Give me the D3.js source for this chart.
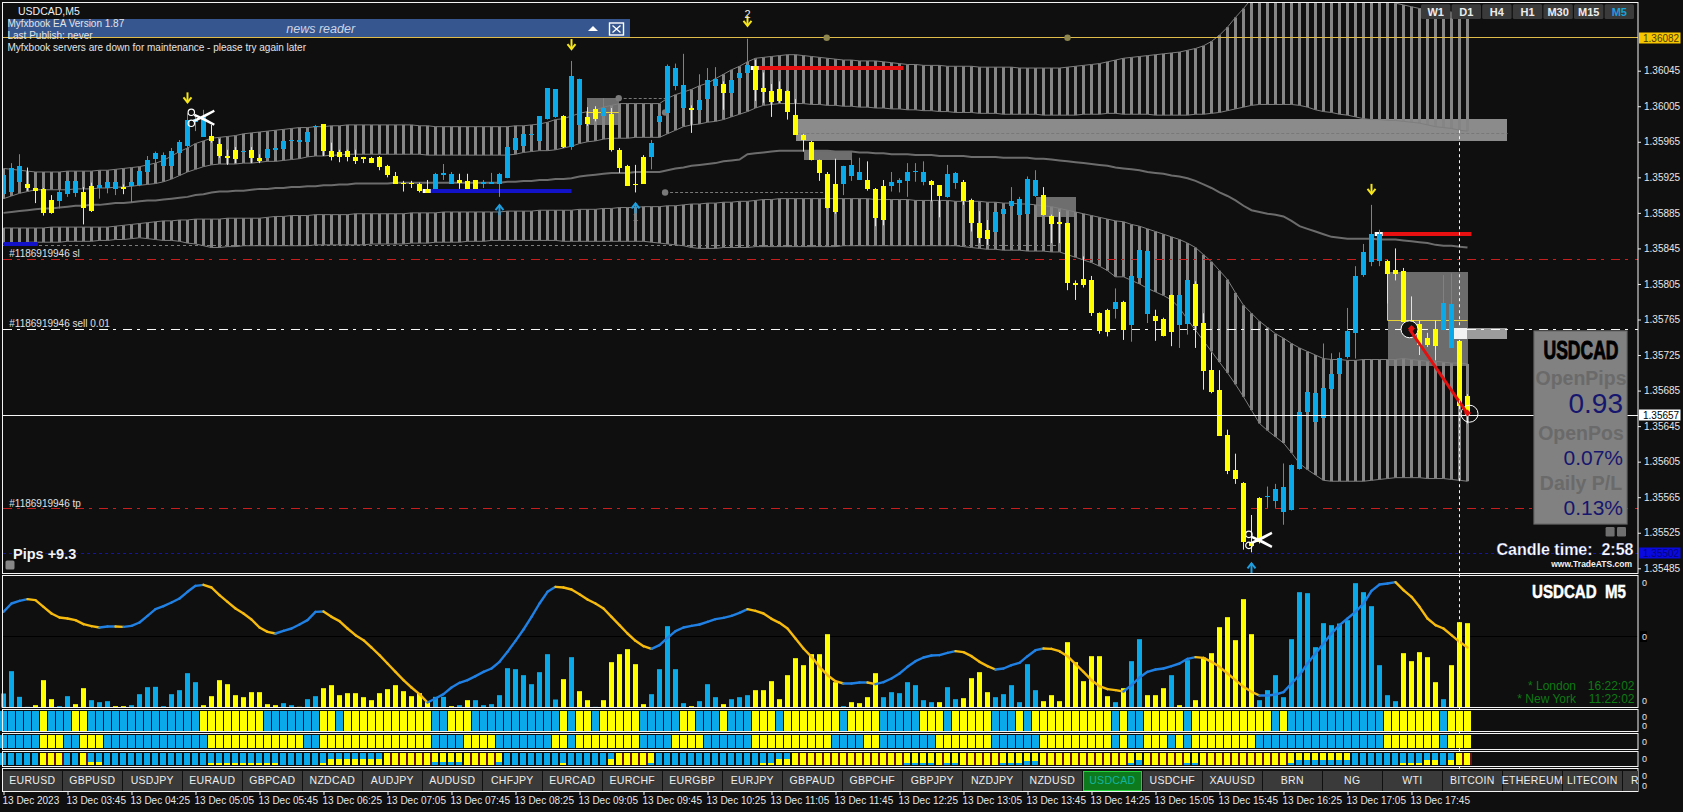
<!DOCTYPE html>
<html><head><meta charset="utf-8">
<script src="https://cdn.jsdelivr.net/npm/d3@7/dist/d3.min.js"></script>
<style>
html,body{margin:0;padding:0;background:#0a0a0a;overflow:hidden}
svg{display:block}
text{font-family:"Liberation Sans",Arial,sans-serif}
</style></head><body><svg id="c" width="1683" height="812"></svg>
<script>
// ---------- DATA (prices in points: 35912 means 1.35912) ----------
const candleHigh=[35930,35941,35951,35936,35913,35913,35905,35914,35931,35930,
35914,35919,35926,35926,35926,35917,35920,35935,35949,35954,
35953,35958,35967,35997,35995,36001,35984,35968,35956,35959,
35960,35959,35951,35958,35961,35967,35977,35971,35978,35984,
35985,35964,35956,35956,35956,35948,35948,35949,35939,35931,
35921,35921,35919,35922,35930,35940,35931,35929,35929,35922,
35922,35930,35930,35963,35976,35976,35976,35994,36025,36024,
35995,36056,36036,36004,36005,36014,36003,35958,35939,35939,
35950,35967,35995,36052,36053,36064,36006,36041,36048,36049,
36033,36041,36048,36081,36057,36043,36030,36033,36023,36013,
35974,35966,35945,35931,35946,35938,35946,35947,35943,35913,
35922,35931,35924,35941,35941,35943,35922,35916,35939,35931,
35922,35901,35887,35877,35886,35894,35914,35903,35926,35933,
35914,35883,35886,35874,35809,35836,35814,35773,35777,35800,
35786,35821,35843,35843,35776,35767,35793,35798,35826,35808,
35772,35728,35708,35641,35614,35582,35545,35565,35577,35580,
35603,35602,35663,35714,35711,35738,35727,35728,35778,35825,
35850,35894,35866,35832,35845,35823,35791,35764,35750,35764,
35815,35817,35742,35681];
const candleBodyTop=[35928,35936,35938,35917,35913,35912,35900,35908,35921,35921,
35908,35915,35916,35920,35920,35914,35920,35932,35944,35952,
35950,35955,35965,35989,35991,35993,35971,35962,35949,35956,
35955,35956,35947,35957,35958,35966,35967,35967,35976,35983,
35985,35955,35953,35955,35948,35948,35947,35948,35938,35927,
35919,35919,35918,35912,35929,35930,35929,35922,35921,35922,
35920,35920,35929,35959,35969,35974,35974,35994,36025,36024,
35994,36039,36036,35993,36002,36003,35996,35956,35938,35918,
35948,35964,35994,36050,36048,36029,36003,36012,36034,36036,
36030,36034,36042,36051,36050,36026,36022,36024,36022,35995,
35973,35965,35944,35929,35918,35938,35939,35931,35922,35912,
35915,35920,35922,35931,35932,35931,35921,35916,35929,35930,
35920,35900,35874,35866,35886,35889,35898,35901,35923,35922,
35905,35882,35875,35874,35806,35811,35809,35772,35776,35785,
35785,35814,35843,35842,35769,35766,35793,35793,35809,35805,
35761,35708,35686,35635,35596,35581,35515,35564,35566,35574,
35576,35601,35661,35683,35682,35688,35704,35722,35752,35814,
35841,35861,35861,35831,35821,35820,35765,35760,35744,35754,
35784,35783,35741,35679];
const candleBodyLow=[35907,35909,35920,35912,35910,35885,35885,35898,35906,35907,
35890,35887,35913,35913,35912,35912,35916,35916,35931,35945,
35938,35938,35953,35960,35988,35971,35965,35948,35947,35946,
35954,35947,35944,35947,35956,35957,35966,35965,35965,35982,
35955,35948,35947,35948,35944,35946,35941,35937,35928,35918,
35918,35918,35910,35908,35912,35928,35918,35919,35912,35912,
35918,35918,35918,35924,35956,35961,35973,35966,35990,35992,
35959,35959,35984,35985,35991,35994,35955,35936,35916,35917,
35918,35948,35987,35997,36028,36003,36001,36001,36013,36028,
36020,36019,36036,36042,36023,36021,36010,36010,35998,35973,
35967,35945,35929,35891,35887,35918,35927,35922,35912,35879,
35877,35915,35919,35921,35931,35920,35916,35904,35903,35919,
35899,35874,35857,35856,35864,35883,35892,35883,35884,35904,
35883,35873,35873,35806,35804,35804,35772,35752,35751,35777,
35753,35759,35811,35771,35763,35747,35751,35759,35759,35758,
35707,35683,35634,35595,35586,35515,35510,35515,35565,35560,
35548,35550,35597,35660,35649,35654,35687,35704,35723,35750,
35815,35830,35831,35816,35816,35763,35750,35736,35736,35735,
35754,35734,35668,35658];
const candleLow=[35901,35905,35912,35910,35896,35882,35884,35890,35903,35903,
35872,35886,35901,35907,35905,35906,35897,35915,35930,35941,
35933,35935,35950,35956,35977,35971,35964,35947,35939,35941,
35949,35941,35941,35943,35948,35956,35960,35962,35963,35974,
35949,35944,35942,35943,35940,35941,35941,35933,35925,35918,
35909,35913,35908,35908,35912,35922,35918,35912,35912,35912,
35913,35918,35903,35924,35951,35961,35967,35965,35990,35992,
35958,35956,35983,35983,35988,35992,35954,35930,35916,35908,
35918,35934,35980,35993,36023,36002,35975,35995,36012,36024,
36001,36018,36019,36040,36011,36009,35993,36009,35990,35973,
35954,35944,35921,35890,35884,35905,35921,35922,35910,35870,
35871,35909,35908,35903,35920,35916,35898,35880,35902,35912,
35894,35864,35851,35849,35863,35872,35886,35875,35883,35903,
35882,35851,35851,35798,35787,35801,35769,35749,35746,35766,
35742,35740,35806,35761,35741,35746,35735,35733,35748,35733,
35686,35682,35634,35591,35580,35506,35503,35513,35553,35553,
35534,35550,35596,35658,35648,35653,35686,35703,35721,35721,
35813,35825,35825,35783,35809,35763,35744,35725,35734,35719,
35753,35733,35665,35648];
const candleColorRuns="b3 y4 b3 y2 b3 y1 b10 y4 b1 y2 b7 y14 b3 y3 b10 y1 b2 y2 b1 y5 b5 y1 b3 y1 b3 y11 b3 y3 b5 y2 b2 y4 b6 y9 b1 y1 b3 y3 b2 y9 b15 y7 b2 y2";

const upperBandTop=[35935,35934,35933,35932,35931,35931,35931,35931,35932,35932,35932,35932,35933,35933,35934,35935,35936,35937,35939,35941,
35944,35949,35954,35958,35963,35966,35969,35970,35971,35972,35974,35975,35976,35977,35978,35979,35980,35981,35981,35982,
35982,35983,35983,35984,35984,35984,35984,35984,35984,35984,35984,35984,35983,35983,35982,35982,35982,35982,35982,35982,
35982,35982,35982,35982,35983,35983,35984,35985,35987,35990,35991,35994,35997,35999,36001,36004,36006,36008,36008,36008,
36008,36008,36008,36014,36018,36021,36024,36028,36031,36036,36041,36046,36050,36055,36059,36060,36061,36062,36063,36063,
36062,36061,36060,36059,36058,36057,36057,36056,36056,36056,36055,36054,36053,36052,36052,36051,36051,36051,36050,36050,
36050,36050,36049,36049,36049,36049,36049,36048,36048,36048,36048,36048,36048,36049,36050,36051,36052,36053,36055,36057,
36059,36060,36061,36062,36063,36064,36065,36066,36068,36070,36073,36078,36085,36094,36105,36115,36126,36135,36145,36152,
36160,36165,36168,36170,36172,36172,36170,36167,36162,36155,36148,36140,36133,36126,36121,36119,36117,36115,36114,36113,36112,36111,36110,36109];
const upperBandBottom=[35901,35904,35907,35909,35911,35911,35911,35911,35911,35912,35912,35912,35913,35913,35914,35914,35915,35916,35917,35918,
35920,35923,35927,35931,35934,35937,35939,35940,35940,35940,35941,35941,35942,35943,35943,35944,35945,35946,35948,35949,
35949,35950,35950,35951,35951,35951,35951,35951,35951,35951,35951,35951,35951,35950,35950,35950,35950,35950,35950,35950,
35950,35950,35950,35950,35951,35953,35954,35955,35955,35956,35958,35960,35963,35965,35966,35968,35969,35969,35969,35970,
35970,35970,35970,35974,35978,35982,35984,35985,35987,35988,35990,35993,35996,35999,36003,36006,36007,36008,36008,36008,
36008,36007,36007,36006,36006,36005,36005,36004,36004,36003,36003,36002,36002,36001,36001,36000,36000,35999,35999,35998,
35998,35998,35997,35997,35997,35996,35996,35996,35996,35996,35995,35995,35995,35995,35995,35996,35996,35996,35997,35997,
35996,35996,35996,35996,35995,35995,35995,35995,35995,35996,35996,35997,35998,36000,36002,36004,36006,36007,36007,36007,
36007,36007,36006,36004,36001,35999,35998,35996,35995,35993,35991,35990,35990,35989,35989,35988,35987,35986,35984,35982,35981,35980,35978,35977];
const middleLine=[35885,35886,35887,35888,35889,35890,35890,35891,35892,35893,35893,35894,35894,35895,35896,35896,35897,35898,35899,35899,
35900,35901,35902,35903,35905,35906,35908,35909,35909,35910,35910,35911,35912,35912,35913,35913,35914,35914,35915,35915,
35916,35916,35917,35917,35918,35918,35918,35918,35918,35919,35919,35919,35919,35919,35919,35919,35919,35919,35919,35919,
35919,35919,35919,35920,35920,35921,35921,35922,35922,35923,35923,35924,35926,35927,35928,35929,35930,35930,35930,35931,
35931,35931,35931,35933,35935,35936,35938,35939,35940,35941,35943,35944,35945,35951,35952,35953,35954,35955,35955,35955,
35955,35955,35955,35955,35954,35954,35954,35953,35953,35952,35952,35951,35951,35951,35950,35950,35950,35949,35949,35949,
35949,35948,35948,35948,35948,35947,35947,35947,35947,35946,35946,35945,35944,35943,35942,35941,35940,35939,35938,35936,
35935,35934,35933,35931,35930,35929,35927,35926,35924,35921,35917,35913,35908,35904,35899,35893,35888,35886,35884,35883,
35881,35876,35870,35867,35864,35861,35858,35857,35856,35856,35856,35856,35855,35855,35855,35854,35853,35852,35851,35849,35848,35848,35847,35846];
const lowerBandTop=[35868,35868,35868,35868,35868,35868,35869,35869,35869,35869,35869,35869,35869,35869,35870,35871,35872,35873,35874,35875,
35876,35876,35877,35877,35878,35878,35878,35878,35879,35879,35879,35879,35879,35880,35881,35881,35882,35882,35882,35883,
35883,35883,35883,35883,35884,35884,35884,35884,35884,35884,35884,35885,35885,35885,35885,35886,35886,35886,35886,35886,
35886,35886,35886,35887,35887,35887,35887,35888,35888,35888,35888,35888,35889,35889,35889,35890,35890,35891,35891,35891,
35892,35892,35892,35893,35893,35894,35895,35895,35896,35896,35897,35897,35898,35898,35899,35900,35900,35901,35901,35901,
35901,35901,35901,35901,35901,35901,35901,35901,35901,35900,35900,35900,35900,35900,35899,35899,35899,35899,35899,35898,
35898,35898,35898,35897,35897,35896,35896,35895,35895,35894,35893,35892,35890,35888,35886,35884,35882,35880,35878,35876,
35875,35872,35870,35867,35864,35861,35858,35855,35851,35846,35838,35830,35820,35810,35795,35781,35772,35763,35756,35749,
35744,35738,35733,35729,35725,35721,35720,35720,35719,35719,35720,35720,35720,35720,35720,35721,35720,35719,35718,35718,35717,35716,35716,35715];
const lowerBandBottom=[35851,35851,35851,35852,35852,35852,35852,35852,35853,35853,35853,35853,35854,35854,35855,35855,35856,35857,35856,35855,
35854,35854,35853,35851,35850,35848,35846,35846,35847,35847,35848,35848,35848,35848,35848,35848,35848,35848,35848,35849,
35849,35849,35849,35849,35849,35849,35850,35850,35850,35850,35850,35851,35851,35851,35852,35852,35852,35852,35853,35853,
35853,35854,35854,35854,35854,35854,35854,35854,35854,35854,35853,35853,35853,35853,35853,35853,35853,35853,35853,35853,
35853,35852,35851,35850,35849,35848,35846,35845,35845,35845,35846,35846,35846,35846,35847,35847,35847,35847,35847,35847,
35847,35847,35847,35847,35847,35848,35848,35848,35848,35848,35848,35848,35848,35848,35848,35848,35848,35848,35848,35848,
35847,35846,35845,35844,35844,35843,35843,35843,35842,35842,35842,35841,35841,35838,35835,35832,35829,35825,35820,35813,
35813,35809,35805,35800,35796,35792,35787,35778,35765,35753,35741,35729,35717,35705,35692,35678,35663,35648,35640,35633,
35626,35615,35603,35596,35590,35584,35583,35583,35583,35583,35583,35584,35585,35586,35587,35587,35587,35587,35586,35586,35586,35585,35584,35583];

const histValues=[42,109,32,2,7,82,25,4,34,10,58,22,16,19,4,4,7,40,61,62,
4,40,52,103,76,7,34,82,70,37,31,46,46,10,7,13,7,2,25,34,
58,67,37,43,43,31,22,43,55,67,49,34,43,16,32,32,4,7,22,22,
7,10,37,118,115,97,70,106,160,24,85,151,49,22,2,22,136,160,175,130,
10,40,115,244,115,13,4,19,70,31,10,25,31,37,52,52,79,25,97,148,
127,160,160,220,76,4,16,13,31,103,31,46,43,76,67,22,16,16,61,25,
28,88,106,46,31,40,67,16,130,52,19,37,19,196,136,79,154,154,34,16,
58,139,205,37,37,58,97,7,142,22,150,163,241,271,202,325,220,22,52,97,
31,205,346,343,181,253,247,252,262,373,346,304,127,37,19,163,139,166,151,76,25,127,256,253];
const histColorRuns="b4 y3 b2 y2 b3 y2 b9 y10 b2 y1 b2 y14 b2 y1 b1 y1 b11 y1 b1 y2 b1 y6 b5 y1 b3 y1 b3 y11 b1 y4 b7 y1 b2 y4 b6 y9 b1 y1 b2 y3 b1 y1 b1 y8 b18 y5 b1 y3";
const oscillator=[287,312,320,325,322,302,282,270,267,262,250,244,240,243,243,242,245,255,275,295,
304,315,327,347,365,368,360,337,317,297,282,264,240,227,222,230,237,249,262,287,
288,272,259,237,217,202,180,157,132,107,82,60,40,15,27,40,60,74,82,94,
107,117,137,167,200,234,272,312,347,362,360,354,340,324,312,297,272,247,222,200,
184,176,187,209,229,240,245,249,257,265,269,275,284,295,290,282,266,254,237,207,
177,152,122,97,79,72,72,75,75,70,76,87,102,122,139,150,156,157,164,169,
166,154,137,124,114,117,127,134,154,172,177,176,169,154,130,107,82,64,55,52,
48,67,90,107,114,117,124,132,146,151,149,137,122,102,82,62,47,36,36,39,
46,72,97,132,162,192,222,247,267,287,312,350,369,372,376,352,332,302,267,247,237,217,197,180];
const stripeOneRuns="b5 y1 b3 y2 b14 y8 b7 y2 b1 y11 b2 y3 b11 y1 b1 y2 b1 y5 b5 y2 b3 y1 b3 y3 b1 y7 b1 y4 b5 y3 b1 y5 b3 y1 b1 y10 b1 y1 b2 y5 b1 y10 b1 y1 b12 y7 b1 y3";
const stripeTwoRuns="b5 y3 b2 y3 b13 y12 b2 y14 b4 y4 b7 y2 b1 y8 b4 y4 b6 y10 b4 y2 b7 y7 b6 y9 b1 y1 b2 y3 b1 y1 b1 y8 b16 y7 b1 y3";
// share of yellow: 1 all yellow, 0 all blue, >0 yellow under blue, <0 blue under yellow
const stripeThreeShare=[0,0,0,0,0,1,1,1,0,0,1,.25,.25,0,0,0,0,0,0,0,0,0,0,0,0,0,
.2,.2,.2,.2,.2,.2,.2,.2,.2,0,0,0,0,0,.2,.5,.5,.5,.5,.5,.5,.5,1,1,1,1,1,1,
-.25,-.25,-.25,-.25,1,1,1,1,-.25,0,0,0,0,0,0,0,.2,0,0,0,0,0,.5,1,1,1,1,-.2,
0,0,0,0,0,0,0,0,0,0,0,0,0,.2,.2,.5,.5,1,1,1,1,1,1,1,1,1,1,1,1,1,1,
-.2,-.2,-.2,-.2,1,-.2,-.2,1,1,1,1,1,-.2,-.2,-.2,-.35,-.35,1,1,1,1,1,1,1,1,1,1,1,
-.2,-.4,1,1,1,1,1,-.2,-.2,1,1,1,1,1,1,1,1,1,1,1,-.2,-.4,-.4,-.4,-.4,-.4,-.4,-.4,
0,0,0,0,0,0,.2,.2,.2,.4,.4,0,.4,1,1];

const priceTicks=[36045,36005,35965,35925,35885,35845,35805,35765,35725,35685,35645,35605,35565,35525,35485];
const timeLabels=["13 Dec 2023","13 Dec 03:45","13 Dec 04:25","13 Dec 05:05","13 Dec 05:45","13 Dec 06:25","13 Dec 07:05","13 Dec 07:45","13 Dec 08:25","13 Dec 09:05","13 Dec 09:45","13 Dec 10:25","13 Dec 11:05","13 Dec 11:45","13 Dec 12:25","13 Dec 13:05","13 Dec 13:45","13 Dec 14:25","13 Dec 15:05","13 Dec 15:45","13 Dec 16:25","13 Dec 17:05","13 Dec 17:45"];
const symbolButtons=["EURUSD","GBPUSD","USDJPY","EURAUD","GBPCAD","NZDCAD","AUDJPY","AUDUSD","CHFJPY","EURCAD","EURCHF","EURGBP","EURJPY","GBPAUD","GBPCHF","GBPJPY","NZDJPY","NZDUSD","USDCAD","USDCHF","XAUUSD","BRN","NG","WTI","BITCOIN","ETHEREUM","LITECOIN","RIPPLE"];
const timeframeButtons=["W1","D1","H4","H1","M30","M15","M5"];
const goldLevel=36082, slLevel=35833, entryLevel=35754, bidLevel=35657, tpLevel=35552, blueLevel=35502, grayDashLevel=35848;
const grayBoxes=[ // [bar from, bar to, price top, price bottom, fill]
 [99.1,188,35991,35966,"#8b8b8b"],[72.9,76.9,36014,35984,"#6e6e6e"],[100,106,35955,35945,"#6e6e6e"],
 [129,134,35903,35881,"#6e6e6e"],[173,183,35818,35712,"#6c6c6c"]];
const upArrows=[[62,35888],[79,35890],[156,35485]];
const downArrows=[[23,36015],[71,36075],[93,36101],[171,35912]];
const thickLevels=[[53,71,35910,"#1212c8"],[0,4.3,35850,"#1212c8"],[94,112.5,36048,"#e81010"],[172,183.5,35861,"#e81010"]];
const scissorMarks=[[24.6,35992],[156.8,35517]];

// ---------- LAYOUT + SCALES ----------
const P={l:3,r:1638,top:3,mainB:574,oscT:576,oscB:708};
const x=d3.scaleLinear().domain([0,183]).range([3.5,1467.5]);
const py=d3.scaleLinear().domain([36045,35485]).range([70.7,568.3]);
const oy=d3.scaleLinear().domain([0,396]).range([707.5,575.5]);
const snap=v=>Math.round(v-.5)+.5;
const BLUE="#0aa9e9",YEL="#ffff00";
const expand=s=>s.split(" ").flatMap(t=>Array(+t.slice(1)).fill(t[0]));
const candleCol=expand(candleColorRuns),histCol=expand(histColorRuns),s1=expand(stripeOneRuns),s2=expand(stripeTwoRuns);
const col=c=>c==="b"?BLUE:YEL;
const bars=d3.range(candleHigh.length);
const svg=d3.select("#c");
svg.append("rect").attr("width",1683).attr("height",812).attr("fill","#0f0f0f");
const defs=svg.append("defs");
defs.append("clipPath").attr("id","main").append("rect").attr("x",P.l).attr("y",P.top).attr("width",P.r-P.l).attr("height",P.mainB-P.top);
defs.append("clipPath").attr("id","btn").append("rect").attr("x",P.l).attr("y",768).attr("width",P.r-P.l).attr("height",24);

// ---------- MAIN PANEL ----------
const m=svg.append("g").attr("clip-path","url(#main)");
m.selectAll("rect.box").data(grayBoxes).join("rect").attr("class","box")
 .attr("x",d=>Math.round(x(d[0]))).attr("width",d=>Math.round(x(d[1])-x(d[0]))).attr("y",d=>Math.round(py(d[2]))).attr("height",d=>Math.round(py(d[3])-py(d[2]))).attr("fill",d=>d[4]);
// white/grey marker beside entry
m.append("rect").attr("x",1454).attr("width",53).attr("y",Math.round(py(35755))).attr("height",11).attr("fill","#9c9c9c");
m.append("rect").attr("x",1454).attr("width",13).attr("y",Math.round(py(35755))).attr("height",11).attr("fill","#f2f2f2");
// hatch
function hatch(a,b){m.append("g").selectAll("line").data(bars).join("line")
 .attr("x1",x).attr("x2",x).attr("y1",i=>py(a[i])).attr("y2",i=>py(b[i]))
 .attr("stroke","#858585").attr("stroke-width",3);
 [a,b].forEach(s=>m.append("path").attr("d",d3.line().x((d,i)=>x(i)).y(d=>py(d))(s)).attr("fill","none").attr("stroke","#7e7e7e").attr("stroke-width",1));}
hatch(upperBandTop,upperBandBottom);hatch(lowerBandTop,lowerBandBottom);
m.append("path").attr("d",d3.line().x((d,i)=>x(i)).y(d=>py(d))(middleLine)).attr("fill","none").attr("stroke","#6c6c6c").attr("stroke-width",2);
// level lines
const hline=(lv,c,dash,w)=>m.append("line").attr("x1",P.l).attr("x2",P.r).attr("y1",snap(py(lv))).attr("y2",snap(py(lv))).attr("stroke",c).attr("stroke-width",w||1).attr("stroke-dasharray",dash||null);
m.append("line").attr("x1",P.l).attr("x2",x(132)).attr("y1",snap(py(grayDashLevel))).attr("y2",snap(py(grayDashLevel))).attr("stroke","#7c7c7c").attr("stroke-dasharray","3 3");
hline(goldLevel,"#e0bd4a");
hline(slLevel,"#c81e1e","9 5 3 7");
hline(entryLevel,"#f8f8f8","9 5 3 7");
hline(tpLevel,"#c81e1e","9 5 3 7");
hline(blueLevel,"#14149e","3 3");
// gold-line anchors and grey dashed objects
[[102.9,36082],[133,36082],[76.9,36014],[82.7,35998],[82.7,35908]].forEach(d=>m.append("circle").attr("cx",x(d[0])).attr("cy",py(d[1])).attr("r",3.2).attr("fill",d[1]===36082?"#8d8550":"#7a7a7a"));
[[76.9,82.7,36014],[82.7,102.9,35908],[99.1,188,35974]].forEach(d=>m.append("line").attr("x1",x(d[0])).attr("x2",x(d[1])).attr("y1",snap(py(d[2]))).attr("y2",snap(py(d[2]))).attr("stroke","#787878").attr("stroke-dasharray","3 2"));
// yellow range lines
[[72.9,76.9,35998],[173,183,35764]].forEach(d=>m.append("line").attr("x1",x(d[0])).attr("x2",x(d[1])).attr("y1",snap(py(d[2]))).attr("y2",snap(py(d[2]))).attr("stroke","#e8d33a"));
m.append("line").attr("x1",x(173)).attr("x2",x(173)).attr("y1",py(35818)).attr("y2",py(35764)).attr("stroke","#e8d33a");
// thick levels
m.selectAll("line.t").data(thickLevels).join("line").attr("class","t").attr("x1",d=>x(d[0])).attr("x2",d=>x(d[1])).attr("y1",d=>Math.round(py(d[2]))).attr("y2",d=>Math.round(py(d[2]))).attr("stroke",d=>d[3]).attr("stroke-width",4);
[[52.4,53.4,35910],[93.4,94.4,36048],[171.4,172.4,35861]].forEach(d=>m.append("line").attr("x1",x(d[0])).attr("x2",x(d[1])).attr("y1",Math.round(py(d[2]))).attr("y2",Math.round(py(d[2]))).attr("stroke","#fff").attr("stroke-width",4));
// candles
const cg=m.append("g");
cg.selectAll("line").data(bars).join("line").attr("x1",x).attr("x2",x).attr("y1",i=>py(candleHigh[i])).attr("y2",i=>py(candleLow[i])).attr("stroke",i=>col(candleCol[i])).attr("stroke-width",1);
cg.selectAll("rect").data(bars).join("rect").attr("x",i=>x(i)-2.5).attr("width",5).attr("y",i=>Math.round(py(candleBodyTop[i]))).attr("height",i=>Math.max(1,Math.round(py(candleBodyLow[i])-py(candleBodyTop[i])))).attr("fill",i=>col(candleCol[i]));
// bid line over candles
hline(bidLevel,"#f6f6f6",null,1);
// arrows
function arrow(i,p,c,dir){const g=m.append("g").attr("transform",`translate(${x(i)},${py(p)})`).attr("fill","none").attr("stroke",c).attr("stroke-width",2);
 g.append("line").attr("y1",-5).attr("y2",5);
 g.append("path").attr("d",dir>0?"M-4,0L0,-5L4,0":"M-4,0L0,5L4,0");}
upArrows.forEach(d=>arrow(d[0],d[1],"#1e9fe0",1));downArrows.forEach(d=>arrow(d[0],d[1],"#f5e51a",-1));
m.append("text").attr("x",x(93)).attr("y",py(36101)-3).attr("text-anchor","middle").attr("font-size",11).attr("fill","#eee").text("2");
m.append("text").attr("x",x(79)).attr("y",py(35890)+13).attr("text-anchor","middle").attr("font-size",10).attr("fill","#888").text("1");
// scissors
scissorMarks.forEach(d=>{const g=m.append("g").attr("transform",`translate(${x(d[0])},${py(d[1])})`);
 g.append("path").attr("d","M-6,-3L14,7L5,2ZM-6,3L14,-7L5,-2Z").attr("stroke","#fff").attr("stroke-width",2.4).attr("fill","#fff");
 g.append("circle").attr("cx",-9).attr("cy",-5.5).attr("r",3.2).attr("fill","none").attr("stroke","#fff").attr("stroke-width",1.2);
 g.append("circle").attr("cx",-9).attr("cy",5.5).attr("r",3.2).attr("fill","none").attr("stroke","#fff").attr("stroke-width",1.2);});
// trade line
const tl=[[176,35754],[183,35659]];
m.append("circle").attr("cx",x(tl[0][0])-2).attr("cy",py(tl[0][1])).attr("r",8.5).attr("fill","#111").attr("stroke","#fff");
m.append("circle").attr("cx",x(tl[1][0])+2).attr("cy",py(tl[1][1])).attr("r",8.5).attr("fill","none").attr("stroke","#fff");
m.append("line").attr("x1",x(tl[0][0])-2).attr("y1",py(tl[0][1])).attr("x2",x(tl[1][0])).attr("y2",py(tl[1][1])).attr("stroke","#e41010").attr("stroke-width",3);
tl.forEach(d=>m.append("rect").attr("x",x(d[0])-3).attr("y",py(d[1])-3).attr("width",5).attr("height",5).attr("fill","#e41010").attr("transform",`rotate(45 ${x(d[0])} ${py(d[1])})`));

// ---------- OSC PANEL ----------
const o=svg.append("g");
o.append("line").attr("x1",P.l).attr("x2",P.r).attr("y1",636.5).attr("y2",636.5).attr("stroke","#000");
o.append("g").selectAll("rect").data(bars).join("rect").attr("x",i=>x(i)-2.5).attr("width",5).attr("y",i=>oy(histValues[i])).attr("height",i=>oy(0)-oy(histValues[i])).attr("fill",i=>col(histCol[i]));
const osc=o.append("g").attr("fill","none").attr("stroke-width",2.4).attr("stroke-linecap","round");
oscillator.slice(1).forEach((v,k)=>osc.append("line").attr("x1",x(k)).attr("y1",oy(oscillator[k])).attr("x2",x(k+1)).attr("y2",oy(v)).attr("stroke",v>=oscillator[k]?"#2080e4":"#f6bb0e"));

// ---------- STRIPES ----------
const rowS=[[711,731],[735,748],[753,765]];
function stripe(a,r){svg.append("g").selectAll("rect").data(bars).join("rect").attr("x",i=>x(i)-3.5).attr("width",7).attr("y",r[0]).attr("height",r[1]-r[0]).attr("fill",i=>col(a[i]));}
stripe(s1,rowS[0]);stripe(s2,rowS[1]);
const s3=svg.append("g");
bars.forEach(i=>{const v=stripeThreeShare[i],r=rowS[2],h=r[1]-r[0],X=x(i)-3.5;
 if(v===0||v===1){s3.append("rect").attr("x",X).attr("width",6).attr("y",r[0]).attr("height",h).attr("fill",v?YEL:BLUE);
  if(v)s3.append("rect").attr("x",X+6).attr("width",2).attr("y",r[0]).attr("height",h).attr("fill","#6b1010");}
 else{const c=Math.round(Math.abs(v)*h),lower=v>0?YEL:BLUE,upper=v>0?BLUE:YEL;
  s3.append("rect").attr("x",X).attr("width",6).attr("y",r[0]).attr("height",h-c).attr("fill",upper);
  s3.append("rect").attr("x",X).attr("width",6).attr("y",r[1]-c).attr("height",c).attr("fill",lower);}
});

// ---------- FRAMES ----------
[[2.5,573.5],[575.5,707.5],[709.5,731.5],[733.5,749.5],[751.5,766.5],[768.5,791.5]].forEach(f=>svg.append("rect").attr("x",2.5).attr("y",f[0]).attr("width",P.r-2.5).attr("height",f[1]-f[0]).attr("fill","none").attr("stroke","#f4f4f4"));

// ---------- BUTTONS ----------
const bg=svg.append("g").attr("clip-path","url(#btn)");
symbolButtons.forEach((s,k)=>{const X=3+60*k,act=s==="USDCAD";
 bg.append("rect").attr("x",act?X+.5:X).attr("y",act?771.5:771).attr("width",act?58:59).attr("height",act?19:20).attr("fill",act?"#0d7a1e":"#3a3a3a").attr("stroke",act?"#25d13a":"none");
 bg.append("text").attr("x",s==="RIPPLE"?X+8:X+29.3).attr("y",784.4).attr("text-anchor",s==="RIPPLE"?"start":"middle").attr("font-size",10.5).attr("fill",act?"#11b5a0":"#ececec").attr("letter-spacing",.3).text(s);});

// ---------- AXES ----------
const axT=svg.append("g").attr("transform","translate(0,791)").call(d3.axisBottom(x).tickValues(timeLabels.map((l,k)=>k*8)).tickSize(4).tickPadding(2).tickFormat(i=>timeLabels[i/8]));
axT.select(".domain").remove();axT.selectAll("line").attr("stroke","#eee");
axT.selectAll("text").attr("text-anchor","start").attr("dx",-1.5).attr("dy",6.8).attr("font-size",10).attr("font-family","'Liberation Sans'").attr("fill","#e6e6e6");
const axP=svg.append("g").attr("transform",`translate(${P.r},0)`).call(d3.axisRight(py).tickValues(priceTicks).tickSize(3).tickPadding(3).tickFormat(d=>(1+d/1e5).toFixed(5)));
axP.select(".domain").remove();axP.selectAll("line").attr("stroke","#eee");
axP.selectAll("text").attr("font-size",10).attr("font-family","'Liberation Sans'").attr("fill","#e6e6e6");
function tag(lv,bg,fg,bd){const g=svg.append("g").attr("transform",`translate(${P.r+1},${Math.round(py(lv))})`);
 g.append("rect").attr("y",-5.5).attr("width",41.5).attr("height",11).attr("fill",bg).attr("stroke",bd||"none");
 g.append("text").attr("x",4).attr("y",3.7).attr("font-size",10).attr("fill",fg).text((1+lv/1e5).toFixed(5));}
tag(goldLevel,"#f7c600","#4a3a00");tag(bidLevel,"#ffffff","#000");tag(blueLevel,"#0a0ae0","#05057a");
svg.append("rect").attr("x",1640).attr("y",631).attr("width",7).attr("height",11).attr("fill","#000");
[582.7,636.7,701,716.5,725.7,742,759,776.2,785.4].forEach(Y=>svg.append("text").attr("x",1642).attr("y",Y+3.2).attr("font-size",9).attr("fill","#e6e6e6").text("0"));

// ---------- VERTICAL CURSOR ----------
svg.append("line").attr("x1",x(182)).attr("x2",x(182)).attr("y1",py(35978)).attr("y2",771).attr("stroke","#f4f4f4").attr("stroke-dasharray","3 3");

// ---------- NEWS BAR + TEXT ----------
const T=(tx,X,Y,sz,fill,o2)=>{const e=svg.append("text").attr("x",X).attr("y",Y).attr("font-size",sz).attr("fill",fill).text(tx);
 Object.entries(o2||{}).forEach(([k,v])=>e.attr(k,v));return e;};
svg.append("rect").attr("x",8).attr("y",19).attr("width",622).attr("height",18).attr("fill","#35568f");
svg.append("line").attr("x1",P.l).attr("x2",630).attr("y1",snap(py(goldLevel))).attr("y2",snap(py(goldLevel))).attr("stroke","#e0bd4a");
T("USDCAD,M5",18,14.6,10.5,"#eee");
T("Myfxbook EA Version 1.87",7.5,27.4,10,"#e4e4e4");
T("Last Publish: never",7.5,39.4,10,"#e4e4e4");
T("Myfxbook servers are down for maintenance - please try again later",7.5,51.4,10,"#e4e4e4");
T("news reader",320.7,33,12.5,"#ccd4e6",{"text-anchor":"middle","font-style":"italic"});
svg.append("path").attr("d","M588,31L598,31L593,26Z").attr("fill","#fff");
svg.append("rect").attr("x",609.5).attr("y",23).attr("width",14).attr("height",12).attr("fill","#35568f").attr("stroke","#fff").attr("stroke-width",1.4);
svg.append("path").attr("d","M612.5,25.5L620.5,32.5M620.5,25.5L612.5,32.5").attr("stroke","#fff").attr("stroke-width",1.3);
T("#1186919946 sl",9.3,257,10,"#e0e0e0");T("#1186919946 sell 0.01",9.3,327,10,"#e0e0e0");T("#1186919946 tp",9.3,506.5,10,"#e0e0e0");
T("Pips +9.3",13,559,14.5,"#f4f4f4",{"font-weight":"bold"});
svg.append("rect").attr("x",5.5).attr("y",560.5).attr("width",9).attr("height",9).attr("rx",1.5).attr("fill","#888");
// timeframe buttons
timeframeButtons.forEach((s,k)=>{const X=1421+30.6*k;
 svg.append("rect").attr("x",X).attr("y",4.3).attr("width",29.4).attr("height",14.6).attr("rx",1.5).attr("fill","#3a3a3a");
 T(s,X+14.7,15.6,11,s==="M5"?"#1ba0dc":"#ececec",{"text-anchor":"middle","font-weight":"bold"});});
// info box
svg.append("rect").attr("x",1534).attr("y",331).attr("width",93).attr("height",193).attr("fill","#818181").attr("stroke","#6a6a6a").attr("stroke-width",1.2);
T("USDCAD",1581,359,25,"#000",{"text-anchor":"middle","font-weight":"bold","font-family":"'Liberation Sans Narrow','Liberation Sans'","stroke":"#000","stroke-width":.9,"textLength":75,"lengthAdjust":"spacingAndGlyphs"});
const gr="#6a6a6a",nv="#16166e";
T("OpenPips",1581,385,19.5,gr,{"text-anchor":"middle","font-weight":"bold"});
T("0.93",1623,412.5,28,nv,{"text-anchor":"end"});
T("OpenPos",1581,440,19.5,gr,{"text-anchor":"middle","font-weight":"bold"});
T("0.07%",1623,464.5,21,nv,{"text-anchor":"end"});
T("Daily P/L",1581,490,19.5,gr,{"text-anchor":"middle","font-weight":"bold"});
T("0.13%",1623,514.5,21,nv,{"text-anchor":"end"});
[1605.6,1617].forEach(X=>svg.append("rect").attr("x",X).attr("y",527).attr("width",9).attr("height",9.5).attr("rx",1.2).attr("fill","#6f6f6f"));
T("Candle time:  2:58",1633.5,555,16,"#fff",{"text-anchor":"end","font-weight":"bold","stroke":"#1a2a8a","stroke-width":.25}).style("white-space","pre");
T("www.TradeATS.com",1632,567,8.5,"#f2f2f2",{"text-anchor":"end","font-weight":"bold"});
// oscillator labels
T("USDCAD  M5",1626,597.5,19,"#fff",{"text-anchor":"end","font-weight":"bold","font-family":"'Liberation Sans Narrow','Liberation Sans'","stroke":"#fff","stroke-width":.5,"textLength":94,"lengthAdjust":"spacingAndGlyphs"}).style("white-space","pre");
T("* London",1576,689.8,12,"#0e7a14",{"text-anchor":"end"});T("16:22:02",1634.5,689.8,12,"#0e7a14",{"text-anchor":"end"});
T("* New York",1576,702.8,12,"#0e7a14",{"text-anchor":"end"});T("11:22:02",1634.5,702.8,12,"#0e7a14",{"text-anchor":"end"});
</script></body></html>
